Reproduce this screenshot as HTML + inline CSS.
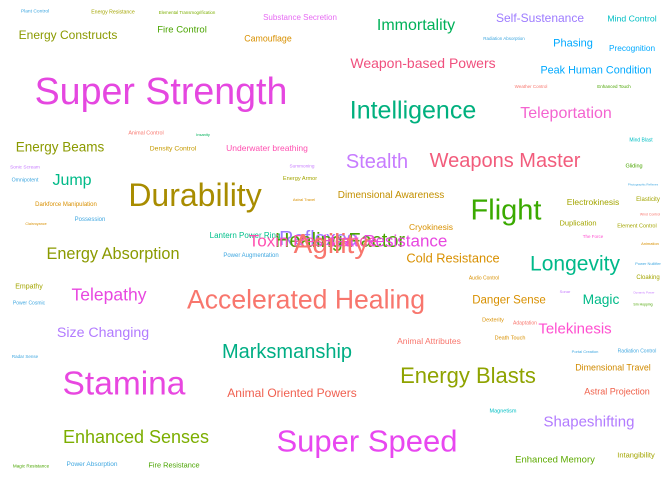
<!DOCTYPE html>
<html><head><meta charset="utf-8">
<style>
html,body{margin:0;padding:0;background:#fff;}
#cloud{position:relative;width:672px;height:480px;overflow:hidden;background:#fff;font-family:"Liberation Sans",Arial,sans-serif;}
#cloud span{position:absolute;white-space:nowrap;line-height:1;transform:translate(-50%,-50%);}
</style></head>
<body>
<div id="cloud"></div>
<script>
// word data: text, relative frequency (rendered as font size), colour
const words = ["Super Strength","Durability","Stamina","Super Speed","Accelerated Healing","Flight","Intelligence","Energy Blasts","Longevity","Weapons Master","Marksmanship","Enhanced Senses","Energy Absorption","Stealth","Telepathy","Immortality","Teleportation","Size Changing","Telekinesis","Shapeshifting","Animal Oriented Powers","Weapon-based Powers","Self-Sustenance","Energy Constructs","Energy Beams","Jump","Cold Resistance","Danger Sense","Magic","Dimensional Awareness","Electrokinesis","Cryokinesis","Duplication","Dimensional Travel","Astral Projection","Peak Human Condition","Phasing","Precognition","Mind Control","Substance Secretion","Fire Control","Camouflage","Underwater breathing","Density Control","Animal Attributes","Enhanced Memory","Intangibility","Fire Resistance","Power Absorption","Magic Resistance","Plant Control","Energy Resistance","Elemental Transmogrification","Lantern Power Ring","Power Augmentation","Darkforce Manipulation","Possession","Animal Control","Omnipotent","Sonic Scream","Energy Armor","Astral Travel","Clairvoyance","Summoning","Insanity","Radiation Absorption","Weather Control","Enhanced Touch","Mind Blast","Gliding","Elasticity","Element Control","Audio Control","Empathy","Power Cosmic","Death Touch","Dexterity","Adaptation","Radar Sense","Portal Creation","Radiation Control","Magnetism","Cloaking","Power Nullifier","Animation","The Force","Wind Control","Sonar","Dynamic Power","Sm Hopping","Photographic Reflexes","Reflexes","Healing Factor","Toxin Resistance","Heat Resistance","Agility"];
const freq = [37.6,32,33.5,31,26.6,29,25,22,21,20,20,18,16.3,20,17.5,16,16,14.2,15,15,12,14,12,12,13.5,16,12.8,11.5,13.8,10,8.5,8.5,7.5,8.9,9,10.8,11,8.3,8.7,8,9.5,8.8,8.5,6.8,8.5,9.5,7.5,7.4,6.5,4.6,4.9,5.2,4.4,8,6,6,6,5.4,5.2,4.8,5.6,4,3.7,4.7,4,4.5,4.5,4.5,5,5.5,6,5.5,5,7,5,5.5,5.5,5,4.5,4,5,5.5,6,4,4,4.5,3.5,4,3,3.5,3,20,20,17,17,28];
const colors = ["#e547e0","#a88c00","#e847e0","#e847f0","#f8766d","#3aaa00","#00b07e","#8fa300","#00b98a","#f25c7c","#00ae84","#7cae00","#8b9a00","#c77cff","#e847e0","#00b159","#f464d0","#b27bff","#ff4fd0","#b27bff","#f06050","#f0507e","#9d7bff","#8b9a00","#8b9a00","#00ba88","#d89000","#d89000","#00ba88","#c39000","#a3a500","#d89000","#a3a500","#d08a00","#f0604a","#00a9ff","#00a9ff","#00a9ff","#00bfc4","#e76bf3","#4aa400","#d89000","#ff4fb0","#c59a00","#f8766d","#5daa00","#a3a500","#4aa400","#3fa7e0","#4aa400","#3fa7e0","#a3a500","#7cae00","#00c08b","#3fa7e0","#d89000","#3fa7e0","#f8766d","#3fa7e0","#c77cff","#a3a500","#d89000","#d89000","#c77cff","#00b159","#3fa7e0","#f8766d","#4aa400","#00bfc4","#4aa400","#a3a500","#a3a500","#d89000","#a3a500","#3fa7e0","#d89000","#d89000","#f8766d","#3fa7e0","#3fa7e0","#3fa7e0","#00bfc4","#a3a500","#3fa7e0","#d89000","#ff4fd0","#f8766d","#c77cff","#c77cff","#4aa400","#3fa7e0","#9d7bff","#4aa400","#ff4fb0","#e847e0","#f8766d"];
// layout (word-cloud placement), not data
const posX = [161,195,124,367,306,506,413,468,575,505,287,136,113,377,109,416,566,103,575,589,292,423,540,68,60,72,453,509,601,391,593,431,578,613,617,596,573,632,632,300,182,268,267,173,429,555,636,174,92,31,35,113,187,245,251,66,90,146,25,25,300,304,36,302,203,504,531,614,641,634,648,637,484,29,29,510,493,525,25,585,637,503,648,648,650,593,650,565,644,643,643,318,340,313,385,331];
const posY = [92,195,384,441,300,211,111,376,264,161,352,437,254,162,295,26,114,333,329,422,393,63,18,35,147,181,259,301,300,196,202,227,223,368,392,71,44,48,19,18,30,39,148,150,341,460,455,465,465,467,13,13,13,236,256,205,220,134,181,169,180,200,225,167,135,39,87,87,141,167,200,227,279,287,304,339,321,324,357,352,352,412,278,264,244,237,215,292,293,305,185,239,241,241,241,244];

const cloud = document.getElementById('cloud');
for (let i = 0; i < words.length; i++) {
  const s = document.createElement('span');
  s.textContent = words[i];
  s.style.fontSize = freq[i] + 'px';
  s.style.color = colors[i];
  s.style.left = posX[i] + 'px';
  s.style.top = posY[i] + 'px';
  
  
  cloud.appendChild(s);
}
</script>
</body></html>
